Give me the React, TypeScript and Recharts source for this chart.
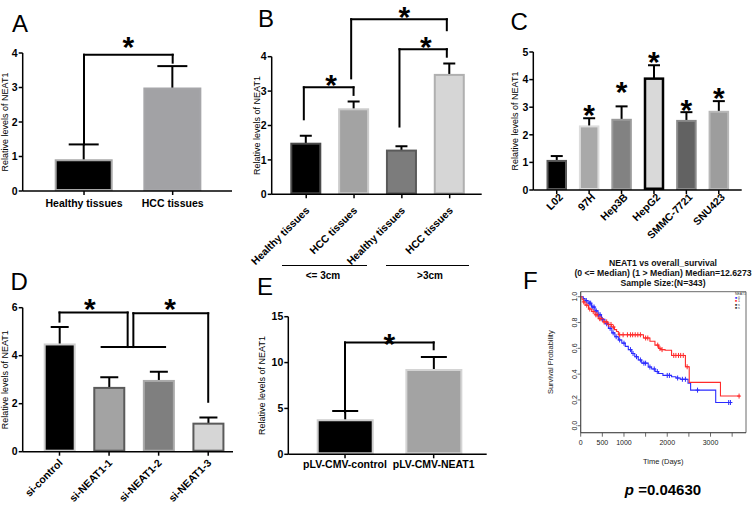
import React from "react";
import {
  BarChart,
  Bar,
  XAxis,
  YAxis,
  ReferenceLine,
  ReferenceDot,
  ReferenceArea,
  ComposedChart,
  Line,
  Scatter,
  Legend,
} from "recharts";

const FONT = "'Liberation Sans', Arial, Helvetica, sans-serif";

// A - tissues
const aNames = ["Healthy tissues", "HCC tissues"];
const aValues = [0.92, 3.0];
const aErrors = [1.35, 3.62];
const aTicks = [0, 1, 2, 3, 4];
const aFills = ["#000000", "#a2a2a5"];
const aStrokes = ["#a8a8a8", "#a6a6a9"];
const aBrackets = [[[0, 1.35], [0, 3.95], [1, 3.95], [1, 3.72]]];
const aStars = [[0.5, 4.38]];

// B - tumour size
const bNames = ["Healthy tissues", "HCC tissues", "Healthy tissues", "HCC tissues"];
const bValues = [1.5, 2.5, 1.3, 3.5];
const bErrors = [1.7, 2.7, 1.4, 3.8];
const bTicks = [0, 1, 2, 3, 4];
const bFills = ["#000000", "#a3a3a3", "#7c7c7c", "#d6d6d6"];
const bStrokes = ["#4a4a4a", "#cccccc", "#5a5a5a", "#b0b0b0"];
const bBrackets = [
  [[-0.05, 2.18], [-0.05, 3.11], [0.99, 3.11], [0.99, 2.89]],
  [[1.95, 1.97], [1.95, 4.22], [2.94, 4.22], [2.94, 4.0]],
  [[0.94, 3.37], [0.94, 5.09], [2.94, 5.09], [2.94, 4.77]],
];
const bStars = [[0.52, 3.37], [2.5, 4.48], [2.05, 5.36]];
const bGroups = ["<= 3cm", ">3cm"];

// C - cell lines
const cNames = ["L02", "97H", "Hep3B", "HepG2", "SMMC-7721", "SNU423"];
const cValues = [1.09, 2.34, 2.58, 4.08, 2.54, 2.87];
const cErrors = [1.23, 2.6, 3.03, 4.52, 2.82, 3.22];
const cTicks = [0, 1, 2, 3, 4, 5];
const cFills = ["#000000", "#a9a9a9", "#828282", "#d9d9d9", "#626262", "#9d9d9d"];
const cStrokes = ["#5a5a5a", "#dcdcdc", "#9a9a9a", "#000000", "#8a8a8a", "#b8b8b8"];
const cStrokeWidths = [2, 2, 2, 2.5, 2, 2];
const cStars = [[1, 2.97], [2, 3.79], [3, 4.9], [4, 3.15], [5, 3.57]];

// D - knockdown
const dNames = ["si-control", "si-NEAT1-1", "si-NEAT1-2", "si-NEAT1-3"];
const dValues = [4.51, 2.7, 2.99, 1.21];
const dErrors = [5.2, 3.1, 3.33, 1.42];
const dTicks = [0, 2, 4, 6];
const dFills = ["#000000", "#a3a3a3", "#7f7f7f", "#d6d6d6"];
const dStrokes = ["#cfcfcf", "#5a5a5a", "#aaaaaa", "#5a5a5a"];
const dBrackets = [
  [[0, 5.42], [0, 5.8], [1.375, 5.8], [1.375, 4.36]],
  [[0.85, 4.36], [2.13, 4.36]],
  [[1.49, 4.36], [1.49, 5.77], [3.0, 5.77], [3.0, 2.08]],
];
const dStars = [[0.61, 6.25], [2.23, 6.25]];

// E - overexpression
const eNames = ["pLV-CMV-control", "pLV-CMV-NEAT1"];
const eValues = [3.82, 9.3];
const eErrors = [4.73, 10.6];
const eTicks = [0, 5, 10, 15];
const eFills = ["#000000", "#a3a3a3"];
const eStrokes = ["#cccccc", "#d4d4d4"];
const eBrackets = [[[0, 4.6], [0, 12.2], [1, 12.2], [1, 11.45]]];
const eStars = [[0.5, 12.8]];

// F - survival
const fTimeTicks = [0, 500, 1000, 1500, 2000, 2500, 3000, 3500];
const fTimeLabels = [0, 500, 1000, 2000, 3000];
const fProbTicks = [0, 0.2, 0.4, 0.6, 0.8, 1.0];
const lowCurve = [
  { t: 0, s: 1 }, { t: 60, s: 0.985 }, { t: 100, s: 0.97 }, { t: 170, s: 0.95 },
  { t: 250, s: 0.92 }, { t: 330, s: 0.89 }, { t: 400, s: 0.86 }, { t: 480, s: 0.825 },
  { t: 560, s: 0.79 }, { t: 640, s: 0.755 }, { t: 720, s: 0.72 }, { t: 790, s: 0.69 },
  { t: 870, s: 0.665 }, { t: 950, s: 0.64 }, { t: 1030, s: 0.615 }, { t: 1100, s: 0.59 },
  { t: 1180, s: 0.56 }, { t: 1250, s: 0.535 }, { t: 1330, s: 0.51 }, { t: 1410, s: 0.485 },
  { t: 1560, s: 0.455 }, { t: 1640, s: 0.44 }, { t: 1720, s: 0.42 }, { t: 1800, s: 0.405 },
  { t: 1900, s: 0.39 }, { t: 2100, s: 0.38 }, { t: 2200, s: 0.37 }, { t: 2300, s: 0.36 },
  { t: 2480, s: 0.33 }, { t: 2540, s: 0.276 }, { t: 3120, s: 0.18 }, { t: 3490, s: 0.18 },
];
const highCurve = [
  { t: 0, s: 1 }, { t: 30, s: 0.98 }, { t: 60, s: 0.96 }, { t: 100, s: 0.935 },
  { t: 180, s: 0.905 }, { t: 254, s: 0.885 }, { t: 330, s: 0.86 }, { t: 406, s: 0.83 },
  { t: 520, s: 0.805 }, { t: 620, s: 0.785 }, { t: 716, s: 0.765 }, { t: 780, s: 0.745 },
  { t: 830, s: 0.73 }, { t: 870, s: 0.705 }, { t: 1450, s: 0.68 }, { t: 1600, s: 0.655 },
  { t: 1716, s: 0.625 }, { t: 1800, s: 0.6 }, { t: 1850, s: 0.59 }, { t: 1950, s: 0.585 },
  { t: 2100, s: 0.545 }, { t: 2420, s: 0.457 }, { t: 2508, s: 0.336 }, { t: 3230, s: 0.23 },
  { t: 3680, s: 0.23 },
];
const lowCensored = [130, 200, 230, 280, 310, 360, 420, 450, 500, 600, 680, 750, 820, 900, 1000,
  1150, 1210, 1290, 1380, 1460, 1500, 1600, 1700, 1770, 2000, 2050, 2240, 2350, 2420, 2700, 3420, 3460];
const highCensored = [70, 140, 210, 290, 350, 380, 440, 470, 540, 600, 650, 700, 760, 900, 980,
  1080, 1150, 1200, 1260, 1320, 1380, 1500, 1550, 1780, 1830, 1880, 2150, 2200, 2260, 2310, 2370,
  2460, 3660];

// survival at a censoring time = last step at or before it
const atTime = (curve: { t: number; s: number }[], times: number[]) =>
  times.map((t) => {
    let s = curve[0].s;
    for (const p of curve) if (p.t <= t) s = p.s;
    return { t, s };
  });

const yTitle = (dx: number, text: string, size: number) => (props: any) => {
  const vb = props.viewBox;
  const x = vb.x + dx;
  const y = vb.y + vb.height / 2;
  return (
    <text x={x} y={y} transform={`rotate(-90 ${x} ${y})`} textAnchor="middle"
      dominantBaseline="central" fontSize={size} fontFamily={FONT} fill="#000">
      {text}
    </text>
  );
};

const xTick = (names: string[], angle: number, off: number[]) => (props: any) => {
  const { x, y, payload } = props;
  const label = names[Number(payload.value)];
  const tx = x + off[0];
  const ty = y + off[1];
  return (
    <text x={tx} y={ty} transform={angle ? `rotate(${angle} ${tx} ${ty})` : undefined}
      textAnchor={angle ? "end" : "middle"} dominantBaseline="central"
      fontSize={10.5} fontWeight="bold" fontFamily={FONT} fill="#000">
      {label}
    </text>
  );
};

const star = (p: any) => (
  <text x={p.cx} y={p.cy + 17} textAnchor="middle" fontSize={30} fontWeight="bold"
    fontFamily={FONT} fill="#000">
    *
  </text>
);

interface PanelProps {
  left: number; top: number; width: number; height: number;
  margin: { top: number; right: number; bottom: number; left: number };
  names: string[]; values: number[]; errors: number[]; ticks: number[];
  fills: string[]; strokes: string[]; strokeWidths?: number[];
  barSize: number; capWidth: number; pad: number[]; yWidth: number; xHeight: number;
  titleX: number; angle: number; labelOffset: number[];
  brackets: number[][][]; stars: number[][];
}

function BarPanel(p: PanelProps) {
  const data = p.names.map((name, i) => ({ key: String(i), i, value: p.values[i], err: p.errors[i] }));
  const n = p.names.length;
  // the index axis runs from the first band centre to the last one
  const plotW = p.width - p.margin.left - p.margin.right - p.yWidth;
  const band = (plotW - p.pad[0] - p.pad[1]) / n;
  const idxPad = { left: p.pad[0] + band / 2, right: p.pad[1] + band / 2 };

  const shape = (props: any) => {
    const { x, y, width, height, payload } = props;
    const i = payload.i;
    const k = height / payload.value;
    const top = y - (payload.err - payload.value) * k;
    const cx = x + width / 2;
    const sw = p.strokeWidths ? p.strokeWidths[i] : 2;
    return (
      <g>
        <line x1={cx} x2={cx} y1={top} y2={y + sw} stroke="#000" strokeWidth={2} />
        <line x1={cx - p.capWidth / 2} x2={cx + p.capWidth / 2} y1={top} y2={top} stroke="#000" strokeWidth={2} />
        <rect x={x + sw / 2} y={y + sw / 2} width={width - sw} height={height - sw}
          fill={p.fills[i]} stroke={p.strokes[i]} strokeWidth={sw} />
      </g>
    );
  };

  return (
    <div style={{ position: "absolute", left: p.left, top: p.top }}>
      <BarChart width={p.width} height={p.height} data={data} margin={p.margin}>
        <XAxis dataKey="key" interval={0} height={p.xHeight} padding={{ left: p.pad[0], right: p.pad[1] }}
          tickSize={4} tickMargin={0}
          axisLine={{ stroke: "#000", strokeWidth: 1.5 }} tickLine={{ stroke: "#000", strokeWidth: 1.5 }}
          tick={xTick(p.names, p.angle, p.labelOffset)} />
        <XAxis xAxisId="n" dataKey="i" type="number" domain={["dataMin", "dataMax"]} hide padding={idxPad} />
        <YAxis domain={[0, p.ticks[p.ticks.length - 1]]} ticks={p.ticks} allowDataOverflow interval={0}
          width={p.yWidth} tickSize={4} tickMargin={1}
          axisLine={{ stroke: "#000", strokeWidth: 1.5 }} tickLine={{ stroke: "#000", strokeWidth: 1.5 }}
          tick={{ fill: "#000", fontSize: 10.5, fontWeight: "bold", fontFamily: FONT }}
          label={yTitle(p.titleX, "Relative levels of NEAT1", 9)} />
        <Bar dataKey="value" barSize={p.barSize} isAnimationActive={false} shape={shape} />
        {p.brackets.flatMap((b, bi) =>
          b.slice(1).map((pt, si) => (
            <ReferenceLine key={`b${bi}-${si}`} xAxisId="n" ifOverflow="visible"
              segment={[{ x: b[si][0], y: b[si][1] }, { x: pt[0], y: pt[1] }]}
              stroke="#000" strokeWidth={2} strokeLinecap="square" />
          ))
        )}
        {p.stars.map((s, i) => (
          <ReferenceDot key={`s${i}`} xAxisId="n" x={s[0]} y={s[1]} r={0} ifOverflow="visible" shape={star} />
        ))}
      </BarChart>
    </div>
  );
}

const Letter = ({ ch, left, top }: { ch: string; left: number; top: number }) => (
  <div style={{ position: "absolute", left, top, fontSize: 24, lineHeight: "24px", fontFamily: FONT, color: "#000" }}>
    {ch}
  </div>
);

const plus = (color: string) => (p: any) => (
  <g stroke={color} strokeWidth={1}>
    <line x1={p.cx - 2} x2={p.cx + 2} y1={p.cy} y2={p.cy} />
    <line x1={p.cx} x2={p.cx} y1={p.cy - 2.5} y2={p.cy + 2.5} />
  </g>
);

function SurvivalPanel() {
  const blue = "#2b2bff";
  const red = "#ff2b2b";
  const axisStyle = { stroke: "#444", strokeWidth: 0.8 };
  return (
    <div style={{ position: "absolute", left: 500, top: 250 }}>
      <ComposedChart width={253} height={256} margin={{ top: 41.7, right: 7, bottom: 38.3, left: 50.7 }}>
        <XAxis type="number" dataKey="t" domain={[0, 3820]} ticks={fTimeTicks} allowDataOverflow interval={0}
          height={35} tickSize={4} tickMargin={3} axisLine={axisStyle} tickLine={axisStyle}
          tickFormatter={(v: number) => (fTimeLabels.includes(v) ? String(v) : "")}
          tick={{ fontSize: 7, fill: "#222", fontFamily: FONT }}
          label={(lp: any) => (
            <text x={lp.viewBox.x + lp.viewBox.width / 2} y={lp.viewBox.y + 29} textAnchor="middle"
              dominantBaseline="central" fontSize={7.5} fontFamily={FONT} fill="#222">
              Time (Days)
            </text>
          )} />
        <YAxis type="number" dataKey="s" domain={[-0.054, 1.039]} ticks={fProbTicks} allowDataOverflow interval={0}
          width={30} tickSize={3} tickMargin={1} axisLine={axisStyle} tickLine={axisStyle}
          tick={(tp: any) => (
            <text x={tp.x} y={tp.y} transform={`rotate(-90 ${tp.x} ${tp.y})`} textAnchor="middle"
              fontSize={7} fontFamily={FONT} fill="#222">
              {Number(tp.payload.value).toFixed(1)}
            </text>
          )}
          label={(lp: any) => {
            const x = lp.viewBox.x;
            const y = lp.viewBox.y + lp.viewBox.height / 2;
            return (
              <text x={x} y={y} transform={`rotate(-90 ${x} ${y})`} textAnchor="middle"
                dominantBaseline="central" fontSize={7.5} fontFamily={FONT} fill="#222">
                Survival Probability
              </text>
            );
          }} />
        <ReferenceArea x1={0} x2={3820} y1={-0.054} y2={1.039} fill="none" stroke="#444" strokeWidth={0.8}
          ifOverflow="visible" />
        <Line data={lowCurve} dataKey="s" name="0" type="stepAfter" stroke={blue} strokeWidth={1.1}
          dot={false} isAnimationActive={false} />
        <Line data={highCurve} dataKey="s" name="1" type="stepAfter" stroke={red} strokeWidth={1.1}
          dot={false} isAnimationActive={false} />
        <Scatter data={atTime(lowCurve, lowCensored)} dataKey="s" shape={plus(blue)} legendType="none"
          isAnimationActive={false} />
        <Scatter data={atTime(highCurve, highCensored)} dataKey="s" shape={plus(red)} legendType="none"
          isAnimationActive={false} />
        <Legend layout="vertical" align="center" verticalAlign="middle"
          wrapperStyle={{ left: 235, top: 43, width: 12 }}
          content={(lp: any) => (
            <div style={{ fontSize: 3.5, lineHeight: "3.5px", fontFamily: FONT, color: "#333" }}>
              <div>NEAT1</div>
              {(lp.payload || []).map((e: any) => (
                <div key={e.value}>
                  <span style={{ color: e.color }}>■</span> {e.value}
                </div>
              ))}
            </div>
          )} />
      </ComposedChart>
    </div>
  );
}

export default function App() {
  return (
    <div style={{ position: "absolute", left: 0, top: 0, width: 753, height: 506, background: "#fff",
      fontFamily: FONT, overflow: "hidden" }}>
      <BarPanel left={0} top={0} width={245} height={240} margin={{ top: 53, right: 13, bottom: 24, left: 0 }}
        names={aNames} values={aValues} errors={aErrors} ticks={aTicks} fills={aFills} strokes={aStrokes}
        barSize={58} capWidth={30} pad={[17, 15]} yWidth={22.7} xHeight={25} titleX={5} angle={0}
        labelOffset={[0, 8]} brackets={aBrackets} stars={aStars} />
      <BarPanel left={225} top={0} width={265} height={300} margin={{ top: 56.7, right: 8.3, bottom: 25.7, left: 6.7 }}
        names={bNames} values={bValues} errors={bErrors} ticks={bTicks} fills={bFills} strokes={bStrokes}
        barSize={31} capWidth={12} pad={[10.6, 8.1]} yWidth={40} xHeight={80} titleX={25} angle={-45}
        labelOffset={[1, 10]} brackets={bBrackets} stars={bStars} />
      <BarPanel left={500} top={0} width={253} height={250} margin={{ top: 52, right: 11.3, bottom: 5, left: 3.3 }}
        names={cNames} values={cValues} errors={cErrors} ticks={cTicks} fills={cFills} strokes={cStrokes}
        strokeWidths={cStrokeWidths} barSize={20.5} capWidth={12} pad={[7.2, 6.7]} yWidth={30} xHeight={55}
        titleX={11.7} angle={-45} labelOffset={[4, 1]} brackets={[]} stars={cStars} />
      <BarPanel left={0} top={250} width={240} height={256} margin={{ top: 57.7, right: 7, bottom: 4.3, left: 0 }}
        names={dNames} values={dValues} errors={dErrors} ticks={dTicks} fills={dFills} strokes={dStrokes}
        barSize={32} capWidth={18} pad={[12, 0]} yWidth={22.7} xHeight={50} titleX={5} angle={-45}
        labelOffset={[1, 5]} brackets={dBrackets} stars={dStars} />
      <BarPanel left={240} top={260} width={255} height={246} margin={{ top: 56.7, right: 8.3, bottom: 26.7, left: 8.3 }}
        names={eNames} values={eValues} errors={eErrors} ticks={eTicks} fills={eFills} strokes={eStrokes}
        barSize={57} capWidth={26} pad={[12.4, 8.7]} yWidth={40} xHeight={25} titleX={13.4} angle={0}
        labelOffset={[0, 5.7]} brackets={eBrackets} stars={eStars} />
      <SurvivalPanel />

      {/* size groups under panel B */}
      <div style={{ position: "absolute", left: 282, top: 265, width: 85, borderTop: "1.5px solid #000" }} />
      <div style={{ position: "absolute", left: 386, top: 265, width: 83, borderTop: "1.5px solid #000" }} />
      <div style={{ position: "absolute", left: 293, top: 270, width: 60, textAlign: "center", fontSize: 10,
        fontWeight: "bold", lineHeight: "12px" }}>{bGroups[0]}</div>
      <div style={{ position: "absolute", left: 400, top: 270, width: 60, textAlign: "center", fontSize: 10,
        fontWeight: "bold", lineHeight: "12px" }}>{bGroups[1]}</div>

      {/* survival title and p value */}
      <div style={{ position: "absolute", left: 563, top: 257.5, width: 200, textAlign: "center", fontSize: 8.7,
        fontWeight: "bold", lineHeight: "10px", color: "#111" }}>
        <div>NEAT1 vs overall_survival</div>
        <div>(0 &lt;= Median) (1 &gt; Median) Median=12.6273</div>
        <div>Sample Size:(N=343)</div>
      </div>
      <div style={{ position: "absolute", left: 603, top: 481, width: 120, textAlign: "center", fontSize: 15,
        fontWeight: "bold", lineHeight: "18px" }}>
        <i>p</i> =0.04630
      </div>

      <Letter ch="A" left={12} top={12} />
      <Letter ch="B" left={258} top={7} />
      <Letter ch="C" left={510.5} top={10} />
      <Letter ch="D" left={10.5} top={270} />
      <Letter ch="E" left={257} top={275} />
      <Letter ch="F" left={523} top={268.5} />
    </div>
  );
}
